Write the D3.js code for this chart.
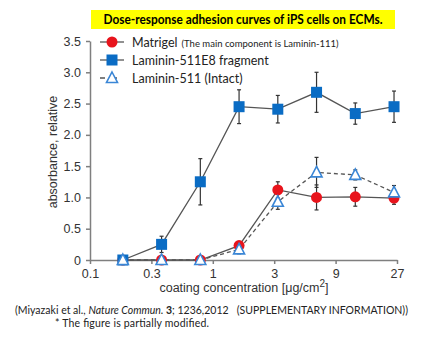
<!DOCTYPE html>
<html>
<head>
<meta charset="utf-8">
<script src="https://cdn.jsdelivr.net/npm/d3@7"></script>
<style>
  html, body { margin: 0; padding: 0; background: #fff; }
  svg { display: block; }
  .axis path, .axis line { stroke: #7f7f7f; stroke-width: 1.5; }
  .axis text { font-family: "Liberation Sans", Arial, sans-serif; font-size: 12.5px; fill: #333; }
</style>
</head>
<body>
<svg id="chart" width="433" height="339"></svg>
<script>
/* dose-response adhesion curves */
const conc = [0.2, 0.4, 0.8, 1.6, 3.2, 6.4, 12.8, 25.6];
const matrigel = [0, 0, 0, 0.23, 1.12, 1.0, 1.01, 0.99];
const matrigelErr = [0, 0, 0, 0.04, 0.13, 0.2, 0.15, 0.1];
const e8 = [0, 0.25, 1.25, 2.45, 2.41, 2.68, 2.34, 2.45];
const e8Err = [0, 0.13, 0.37, 0.27, 0.22, 0.32, 0.17, 0.25];
const intact = [0, 0, 0, 0.17, 0.93, 1.40, 1.36, 1.08];
const intactErr = [0, 0, 0, 0.07, 0.12, 0.24, 0.08, 0.11];
const xTicks = [1 / 9, 1 / 3, 1, 3, 9, 27];
const xTickLabels = ['0.1', '0.3', '1', '3', '9', '27'];
const yTicks = [0, 0.5, 1, 1.5, 2, 2.5, 3, 3.5];
const legendNames = ['Matrigel', 'Laminin-511E8 fragment', 'Laminin-511 (Intact)'];

const svg = d3.select('#chart');
const x = d3.scaleLog().base(3).domain([1 / 9, 27]).range([90, 397]);
const y = d3.scaleLinear().domain([0, 3.5]).range([260, 41]);

// title
svg.append('rect').attr('x', 91).attr('y', 10).attr('width', 304).attr('height', 19).attr('fill', '#ffff00');
svg.append('text').attr('x', 243).attr('y', 24).attr('text-anchor', 'middle')
    .attr('textLength', 279).attr('lengthAdjust', 'spacingAndGlyphs')
    .style('font-family', 'Lato, sans-serif').style('font-weight', 'bold').style('font-size', '12.5px')
    .text('Dose-response adhesion curves of iPS cells on ECMs.');

// axes
svg.append('g').attr('class', 'axis').attr('transform', 'translate(90,0)')
    .call(d3.axisLeft(y).tickValues(yTicks).tickSize(4).tickSizeOuter(0)
        .tickFormat(d => d === 0 ? '0' : d3.format('.1f')(d)))
    .call(a => a.selectAll('text').attr('dx', '-2'));
svg.append('g').attr('class', 'axis').attr('transform', 'translate(0,260)')
    .call(d3.axisBottom(x).tickValues(xTicks).tickSize(4).tickSizeOuter(0)
        .tickFormat((d, i) => xTickLabels[i]))
    .call(a => a.selectAll('text').attr('dy', '0.9em'));

svg.append('text').attr('transform', 'translate(57,152) rotate(-90)').attr('text-anchor', 'middle')
    .style('font-family', '"Liberation Sans", Arial, sans-serif').style('font-size', '12.5px').attr('fill', '#333')
    .text('absorbance, relative');
const xl = svg.append('text').attr('x', 244).attr('y', 292).attr('text-anchor', 'middle')
    .style('font-family', '"Liberation Sans", Arial, sans-serif').style('font-size', '12.5px').attr('fill', '#333');
xl.append('tspan').text('coating concentration [μg/cm');
xl.append('tspan').attr('dy', -5).style('font-size', '10px').text('2');
xl.append('tspan').attr('dy', 5).text(']');

// series
const series = [
    { vals: matrigel, err: matrigelErr, dash: null, kind: 'circle' },
    { vals: e8, err: e8Err, dash: null, kind: 'square' },
    { vals: intact, err: intactErr, dash: '4,3', kind: 'triangle' },
];
const line = d3.line().x(d => x(d[0])).y(d => y(d[1]));

series.forEach(s => {
    const pts = conc.map((c, i) => [c, s.vals[i], s.err[i]]);
    svg.append('path').datum(pts).attr('d', line).attr('fill', 'none')
        .attr('stroke', '#555').attr('stroke-width', 1.3).attr('stroke-dasharray', s.dash);
    const eb = svg.append('g').selectAll('g').data(pts.filter(p => p[2] > 0)).enter().append('g')
        .attr('stroke', '#333').attr('stroke-width', 1.2);
    eb.append('line').attr('x1', d => x(d[0])).attr('x2', d => x(d[0]))
        .attr('y1', d => y(d[1] + d[2])).attr('y2', d => y(d[1] - d[2]));
    eb.append('line').attr('x1', d => x(d[0]) - 2).attr('x2', d => x(d[0]) + 2)
        .attr('y1', d => y(d[1] + d[2])).attr('y2', d => y(d[1] + d[2]));
    eb.append('line').attr('x1', d => x(d[0]) - 2).attr('x2', d => x(d[0]) + 2)
        .attr('y1', d => y(d[1] - d[2])).attr('y2', d => y(d[1] - d[2]));
    s.pts = pts;
});

function marker(sel, kind) {
    if (kind === 'circle') {
        sel.append('circle').attr('r', 5.5).attr('fill', '#e8141c');
    } else if (kind === 'square') {
        sel.append('rect').attr('x', -5.5).attr('y', -5.5).attr('width', 11).attr('height', 11).attr('fill', '#0a6cc4');
    } else {
        sel.append('path').attr('d', 'M0,-6L5.5,4.5L-5.5,4.5Z').attr('fill', '#fff')
            .attr('stroke', '#3a86d6').attr('stroke-width', 1.6);
    }
}

series.forEach(s => {
    svg.append('g').selectAll('g').data(s.pts).enter().append('g')
        .attr('transform', d => `translate(${x(d[0])},${y(d[1])})`)
        .each(function () { marker(d3.select(this), s.kind); });
});

// legend
const legY = [42, 60, 78];
series.forEach((s, i) => {
    svg.append('line').attr('x1', 100).attr('x2', 124).attr('y1', legY[i]).attr('y2', legY[i])
        .attr('stroke', '#555').attr('stroke-width', 1.3).attr('stroke-dasharray', s.dash ? '5,7' : null);
    const m = svg.append('g').attr('transform', `translate(112,${legY[i]})`);
    marker(m, s.kind);
    const t = svg.append('text').attr('x', 132).attr('y', legY[i] + 4.5)
        .style('font-family', 'Lato, sans-serif').style('font-size', '12.5px').attr('fill', '#222')
        .text(legendNames[i]);
    if (i === 0) t.append('tspan').attr('dx', 4).style('font-size', '9.5px').text('(The main component is Laminin-111)');
});

// citation
const c1 = svg.append('text').attr('x', 15).attr('y', 313.5)
    .attr('textLength', 393).attr('lengthAdjust', 'spacing')
    .style('font-family', 'Lato, sans-serif').style('font-size', '10.5px').attr('fill', '#222');
c1.append('tspan').text('(Miyazaki et al., ');
c1.append('tspan').style('font-style', 'italic').text('Nature Commun.');
c1.append('tspan').style('font-weight', 'bold').text(' 3');
c1.append('tspan').text('; 1236,2012 \u00a0\u00a0(SUPPLEMENTARY INFORMATION))');
svg.append('text').attr('x', 55).attr('y', 327)
    .attr('textLength', 154).attr('lengthAdjust', 'spacing')
    .style('font-family', 'Lato, sans-serif').style('font-size', '10.5px').attr('fill', '#222')
    .text('* The figure is partially modified.');
</script>
</body>
</html>
